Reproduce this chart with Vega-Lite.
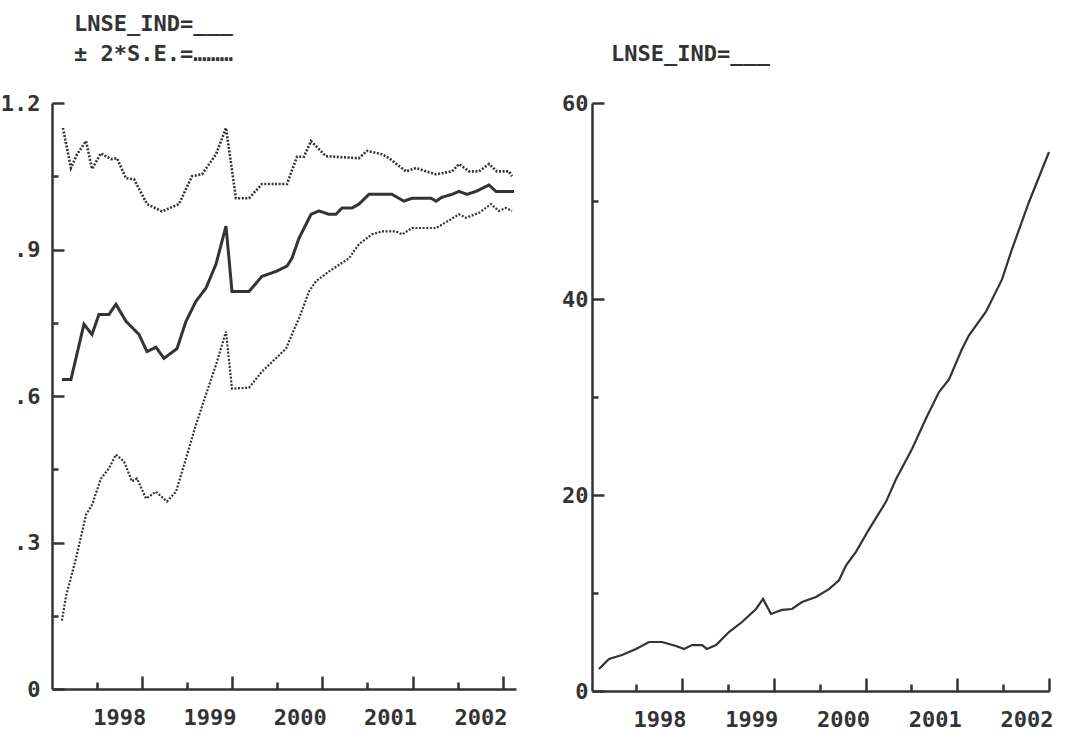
{
  "$schema": "https://vega.github.io/schema/vega-lite/v6.json",
  "background": "white",
  "padding": {"left": 0, "top": 13, "right": 5, "bottom": 5},
  "spacing": 76,
  "bounds": "flush",
  "config": {
    "view": {"stroke": null},
    "axis": {
      "grid": false,
      "domainColor": "#333",
      "domainWidth": 2.5,
      "tickColor": "#333",
      "tickWidth": 2.5,
      "labelFont": "DejaVu Sans Mono",
      "labelFontSize": 22,
      "labelFontWeight": "bold",
      "labelColor": "#333",
      "labelOverlap": false,
      "labelFlush": false,
      "title": null
    },
    "title": {"font": "DejaVu Sans Mono", "fontSize": 22, "fontWeight": "bold", "color": "#333", "anchor": "start", "frame": "group"}
  },
  "datasets": {
    "left": [
      {"s": "LNSE_IND", "t": 1997.117, "v": 0.634},
      {"s": "LNSE_IND", "t": 1997.217, "v": 0.634},
      {"s": "LNSE_IND", "t": 1997.361, "v": 0.747},
      {"s": "LNSE_IND", "t": 1997.450, "v": 0.726},
      {"s": "LNSE_IND", "t": 1997.527, "v": 0.767},
      {"s": "LNSE_IND", "t": 1997.638, "v": 0.767},
      {"s": "LNSE_IND", "t": 1997.715, "v": 0.788},
      {"s": "LNSE_IND", "t": 1997.826, "v": 0.753},
      {"s": "LNSE_IND", "t": 1997.970, "v": 0.726},
      {"s": "LNSE_IND", "t": 1998.059, "v": 0.691},
      {"s": "LNSE_IND", "t": 1998.158, "v": 0.700},
      {"s": "LNSE_IND", "t": 1998.247, "v": 0.677},
      {"s": "LNSE_IND", "t": 1998.391, "v": 0.697},
      {"s": "LNSE_IND", "t": 1998.491, "v": 0.753},
      {"s": "LNSE_IND", "t": 1998.601, "v": 0.794},
      {"s": "LNSE_IND", "t": 1998.712, "v": 0.821},
      {"s": "LNSE_IND", "t": 1998.823, "v": 0.870},
      {"s": "LNSE_IND", "t": 1998.934, "v": 0.948},
      {"s": "LNSE_IND", "t": 1999.000, "v": 0.814},
      {"s": "LNSE_IND", "t": 1999.188, "v": 0.814},
      {"s": "LNSE_IND", "t": 1999.332, "v": 0.845},
      {"s": "LNSE_IND", "t": 1999.487, "v": 0.855},
      {"s": "LNSE_IND", "t": 1999.609, "v": 0.866},
      {"s": "LNSE_IND", "t": 1999.664, "v": 0.882},
      {"s": "LNSE_IND", "t": 1999.742, "v": 0.923},
      {"s": "LNSE_IND", "t": 1999.875, "v": 0.972},
      {"s": "LNSE_IND", "t": 1999.963, "v": 0.979},
      {"s": "LNSE_IND", "t": 2000.074, "v": 0.972},
      {"s": "LNSE_IND", "t": 2000.151, "v": 0.972},
      {"s": "LNSE_IND", "t": 2000.218, "v": 0.985},
      {"s": "LNSE_IND", "t": 2000.329, "v": 0.985},
      {"s": "LNSE_IND", "t": 2000.406, "v": 0.993},
      {"s": "LNSE_IND", "t": 2000.517, "v": 1.013},
      {"s": "LNSE_IND", "t": 2000.772, "v": 1.013},
      {"s": "LNSE_IND", "t": 2000.905, "v": 0.999},
      {"s": "LNSE_IND", "t": 2000.993, "v": 1.005},
      {"s": "LNSE_IND", "t": 2001.204, "v": 1.005},
      {"s": "LNSE_IND", "t": 2001.259, "v": 0.999},
      {"s": "LNSE_IND", "t": 2001.326, "v": 1.007},
      {"s": "LNSE_IND", "t": 2001.436, "v": 1.013},
      {"s": "LNSE_IND", "t": 2001.514, "v": 1.019},
      {"s": "LNSE_IND", "t": 2001.602, "v": 1.013},
      {"s": "LNSE_IND", "t": 2001.702, "v": 1.019},
      {"s": "LNSE_IND", "t": 2001.846, "v": 1.032},
      {"s": "LNSE_IND", "t": 2001.923, "v": 1.019},
      {"s": "LNSE_IND", "t": 2002.123, "v": 1.019},
      {"s": "upper", "t": 1997.128, "v": 1.149},
      {"s": "upper", "t": 1997.217, "v": 1.067},
      {"s": "upper", "t": 1997.284, "v": 1.095},
      {"s": "upper", "t": 1997.384, "v": 1.122},
      {"s": "upper", "t": 1997.450, "v": 1.065},
      {"s": "upper", "t": 1997.549, "v": 1.097},
      {"s": "upper", "t": 1997.660, "v": 1.085},
      {"s": "upper", "t": 1997.726, "v": 1.087},
      {"s": "upper", "t": 1997.826, "v": 1.046},
      {"s": "upper", "t": 1997.915, "v": 1.044},
      {"s": "upper", "t": 1998.059, "v": 0.993},
      {"s": "upper", "t": 1998.225, "v": 0.978},
      {"s": "upper", "t": 1998.413, "v": 0.993},
      {"s": "upper", "t": 1998.557, "v": 1.050},
      {"s": "upper", "t": 1998.668, "v": 1.054},
      {"s": "upper", "t": 1998.823, "v": 1.095},
      {"s": "upper", "t": 1998.934, "v": 1.149},
      {"s": "upper", "t": 1999.044, "v": 1.005},
      {"s": "upper", "t": 1999.188, "v": 1.005},
      {"s": "upper", "t": 1999.332, "v": 1.034},
      {"s": "upper", "t": 1999.609, "v": 1.034},
      {"s": "upper", "t": 1999.720, "v": 1.090},
      {"s": "upper", "t": 1999.797, "v": 1.090},
      {"s": "upper", "t": 1999.875, "v": 1.122},
      {"s": "upper", "t": 2000.041, "v": 1.091},
      {"s": "upper", "t": 2000.406, "v": 1.087},
      {"s": "upper", "t": 2000.495, "v": 1.102},
      {"s": "upper", "t": 2000.661, "v": 1.095},
      {"s": "upper", "t": 2000.739, "v": 1.087},
      {"s": "upper", "t": 2000.927, "v": 1.060},
      {"s": "upper", "t": 2001.038, "v": 1.067},
      {"s": "upper", "t": 2001.148, "v": 1.060},
      {"s": "upper", "t": 2001.259, "v": 1.054},
      {"s": "upper", "t": 2001.436, "v": 1.060},
      {"s": "upper", "t": 2001.514, "v": 1.075},
      {"s": "upper", "t": 2001.625, "v": 1.060},
      {"s": "upper", "t": 2001.735, "v": 1.060},
      {"s": "upper", "t": 2001.846, "v": 1.075},
      {"s": "upper", "t": 2001.934, "v": 1.060},
      {"s": "upper", "t": 2002.068, "v": 1.060},
      {"s": "upper", "t": 2002.101, "v": 1.050},
      {"s": "lower", "t": 1997.117, "v": 0.140},
      {"s": "lower", "t": 1997.162, "v": 0.190},
      {"s": "lower", "t": 1997.272, "v": 0.267},
      {"s": "lower", "t": 1997.384, "v": 0.357},
      {"s": "lower", "t": 1997.450, "v": 0.377},
      {"s": "lower", "t": 1997.549, "v": 0.431},
      {"s": "lower", "t": 1997.638, "v": 0.452},
      {"s": "lower", "t": 1997.715, "v": 0.480},
      {"s": "lower", "t": 1997.804, "v": 0.466},
      {"s": "lower", "t": 1997.893, "v": 0.425},
      {"s": "lower", "t": 1997.948, "v": 0.431},
      {"s": "lower", "t": 1998.048, "v": 0.390},
      {"s": "lower", "t": 1998.158, "v": 0.404},
      {"s": "lower", "t": 1998.280, "v": 0.384},
      {"s": "lower", "t": 1998.380, "v": 0.404},
      {"s": "lower", "t": 1998.491, "v": 0.472},
      {"s": "lower", "t": 1998.601, "v": 0.541},
      {"s": "lower", "t": 1998.712, "v": 0.603},
      {"s": "lower", "t": 1998.823, "v": 0.664},
      {"s": "lower", "t": 1998.934, "v": 0.732},
      {"s": "lower", "t": 1999.000, "v": 0.615},
      {"s": "lower", "t": 1999.188, "v": 0.617},
      {"s": "lower", "t": 1999.332, "v": 0.650},
      {"s": "lower", "t": 1999.598, "v": 0.697},
      {"s": "lower", "t": 1999.664, "v": 0.726},
      {"s": "lower", "t": 1999.742, "v": 0.759},
      {"s": "lower", "t": 1999.853, "v": 0.814},
      {"s": "lower", "t": 1999.930, "v": 0.835},
      {"s": "lower", "t": 2000.074, "v": 0.855},
      {"s": "lower", "t": 2000.296, "v": 0.882},
      {"s": "lower", "t": 2000.406, "v": 0.911},
      {"s": "lower", "t": 2000.551, "v": 0.931},
      {"s": "lower", "t": 2000.661, "v": 0.937},
      {"s": "lower", "t": 2000.816, "v": 0.937},
      {"s": "lower", "t": 2000.883, "v": 0.931},
      {"s": "lower", "t": 2000.993, "v": 0.944},
      {"s": "lower", "t": 2001.259, "v": 0.944},
      {"s": "lower", "t": 2001.326, "v": 0.951},
      {"s": "lower", "t": 2001.514, "v": 0.972},
      {"s": "lower", "t": 2001.591, "v": 0.965},
      {"s": "lower", "t": 2001.735, "v": 0.975},
      {"s": "lower", "t": 2001.868, "v": 0.993},
      {"s": "lower", "t": 2001.956, "v": 0.979},
      {"s": "lower", "t": 2002.034, "v": 0.985},
      {"s": "lower", "t": 2002.101, "v": 0.979}
    ],
    "right": [
      {"t": 1997.095, "v": 2.24},
      {"t": 1997.204, "v": 3.27},
      {"t": 1997.346, "v": 3.67},
      {"t": 1997.499, "v": 4.29},
      {"t": 1997.640, "v": 5.0},
      {"t": 1997.782, "v": 5.0},
      {"t": 1997.935, "v": 4.59},
      {"t": 1998.022, "v": 4.29},
      {"t": 1998.109, "v": 4.69},
      {"t": 1998.218, "v": 4.69},
      {"t": 1998.272, "v": 4.29},
      {"t": 1998.371, "v": 4.69},
      {"t": 1998.512, "v": 6.02},
      {"t": 1998.654, "v": 7.04},
      {"t": 1998.807, "v": 8.37},
      {"t": 1998.883, "v": 9.39},
      {"t": 1998.970, "v": 7.86},
      {"t": 1999.090, "v": 8.27},
      {"t": 1999.199, "v": 8.37},
      {"t": 1999.308, "v": 9.08},
      {"t": 1999.460, "v": 9.59},
      {"t": 1999.602, "v": 10.4},
      {"t": 1999.711, "v": 11.3},
      {"t": 1999.787, "v": 12.8},
      {"t": 1999.896, "v": 14.2},
      {"t": 2000.038, "v": 16.5},
      {"t": 2000.223, "v": 19.3},
      {"t": 2000.332, "v": 21.6},
      {"t": 2000.507, "v": 24.7},
      {"t": 2000.659, "v": 27.8},
      {"t": 2000.801, "v": 30.5},
      {"t": 2000.910, "v": 31.8},
      {"t": 2001.052, "v": 34.9},
      {"t": 2001.128, "v": 36.3},
      {"t": 2001.313, "v": 38.7},
      {"t": 2001.488, "v": 42.0},
      {"t": 2001.597, "v": 45.1},
      {"t": 2001.782, "v": 49.9},
      {"t": 2002.000, "v": 55.0}
    ]
  },
  "hconcat": [
    {
      "width": 464,
      "height": 586,
      "title": {"text": ["LNSE_IND=___", "± 2*S.E.=………"], "dx": 22, "offset": 26, "lineHeight": 30},
      "data": {"name": "left"},
      "mark": {"type": "line", "color": "#333", "strokeCap": "butt"},
      "encoding": {
        "x": {
          "field": "t", "type": "quantitative",
          "scale": {"domain": [1997.007, 2002.145], "nice": false, "zero": false},
          "axis": {
            "values": [1997.5, 1998, 1998.5, 1999, 1999.5, 2000, 2000.5, 2001, 2001.5, 2002],
            "labelExpr": "datum.value % 1 === 0 ? '' + datum.value : ''",
            "tickSize": {"condition": {"test": "datum.value % 1 === 0", "value": -13}, "value": -7},
            "labelAlign": "right",
            "labelBaseline": "top",
            "labelOffset": 4,
            "labelPadding": 31
          }
        },
        "y": {
          "field": "v", "type": "quantitative",
          "scale": {"domain": [0, 1.2], "nice": false},
          "axis": {
            "values": [0, 0.15, 0.3, 0.45, 0.6, 0.75, 0.9, 1.05, 1.2],
            "labelExpr": "datum.value == 0 ? '0' : datum.value == 0.3 ? '.3' : datum.value == 0.6 ? '.6' : datum.value == 0.9 ? '.9' : datum.value == 1.2 ? '1.2' : ''",
            "tickSize": {"condition": {"test": "indexof([0, 0.3, 0.6, 0.9, 1.2], datum.value) >= 0", "value": -12}, "value": -6},
            "labelPadding": 24
          }
        },
        "detail": {"field": "s"},
        "strokeDash": {"field": "s", "type": "nominal", "scale": {"domain": ["LNSE_IND", "upper", "lower"], "range": [[1, 0], [2, 1.6], [2, 1.6]]}, "legend": null},
        "strokeWidth": {"field": "s", "type": "nominal", "scale": {"domain": ["LNSE_IND", "upper", "lower"], "range": [3, 2.2, 2.2]}, "legend": null}
      }
    },
    {
      "width": 457,
      "height": 588,
      "title": {"text": "LNSE_IND=___", "dx": 19, "offset": 26},
      "data": {"name": "right"},
      "mark": {"type": "line", "color": "#333", "strokeWidth": 2.2},
      "encoding": {
        "x": {
          "field": "t", "type": "quantitative",
          "scale": {"domain": [1997.019, 2002.0], "nice": false, "zero": false},
          "axis": {
            "values": [1997.5, 1998, 1998.5, 1999, 1999.5, 2000, 2000.5, 2001, 2001.5, 2002],
            "labelExpr": "datum.value % 1 === 0 ? '' + datum.value : ''",
            "tickSize": {"condition": {"test": "datum.value % 1 === 0", "value": -13}, "value": -7},
            "labelAlign": "right",
            "labelBaseline": "top",
            "labelOffset": 4,
            "labelPadding": 31
          }
        },
        "y": {
          "field": "v", "type": "quantitative",
          "scale": {"domain": [0, 60], "nice": false},
          "axis": {
            "values": [0, 10, 20, 30, 40, 50, 60],
            "labelExpr": "datum.value % 20 === 0 ? '' + datum.value : ''",
            "tickSize": {"condition": {"test": "datum.value % 20 === 0", "value": -12}, "value": -6},
            "labelPadding": 16
          }
        }
      }
    }
  ]
}
